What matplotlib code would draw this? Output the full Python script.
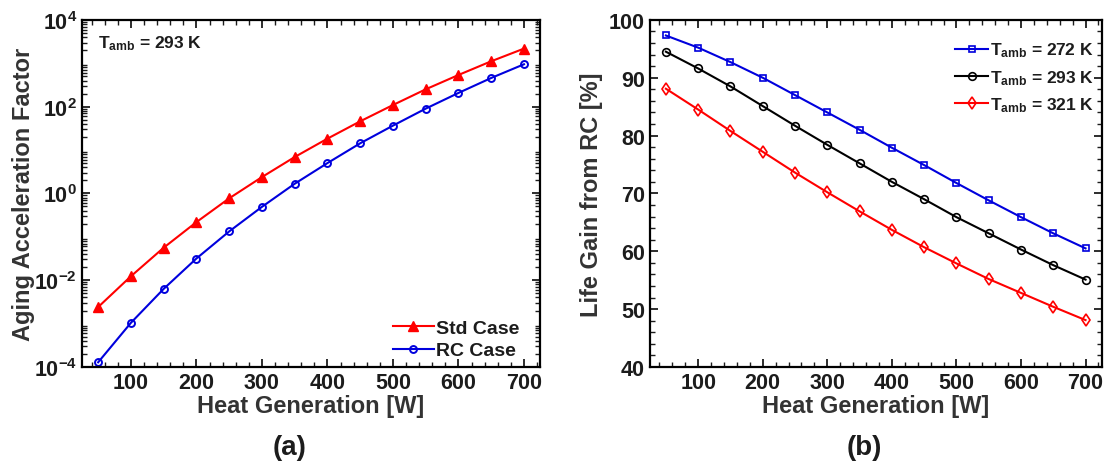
import math
import matplotlib
matplotlib.use("Agg")
import matplotlib.pyplot as plt
from matplotlib.ticker import FixedLocator, FuncFormatter, MultipleLocator, LogLocator, NullFormatter

plt.rcParams['font.family'] = ['Liberation Sans', 'DejaVu Sans']
plt.rcParams['font.weight'] = 'bold'
plt.rcParams['mathtext.fontset'] = 'custom'
plt.rcParams['mathtext.rm'] = 'Liberation Sans:bold'
plt.rcParams['mathtext.bf'] = 'Liberation Sans:bold'
plt.rcParams['mathtext.it'] = 'Liberation Sans:bold'

# ---- data ----
heat_w = [50, 100, 150, 200, 250, 300, 350, 400, 450, 500, 550, 600, 650, 700]

std_case = [2.4e-3, 0.0123, 0.056, 0.218, 0.77, 2.38, 6.9, 18.3, 45.9, 109,
            251, 537, 1112, 2178]
rc_case = [1.28e-4, 1.04e-3, 6.3e-3, 0.0316, 0.133, 0.49, 1.67, 5.0, 14.3, 36.5,
           90, 207, 458, 948]

gain_272 = [97.3, 95.2, 92.7, 90.0, 87.0, 84.0, 81.0, 77.9, 74.9, 71.8, 68.8, 65.9, 63.1, 60.5]
gain_293 = [94.5, 91.6, 88.5, 85.1, 81.7, 78.4, 75.2, 72.0, 69.0, 65.9, 63.1, 60.3, 57.6, 55.1]
gain_321 = [88.1, 84.5, 80.8, 77.2, 73.6, 70.2, 66.9, 63.7, 60.7, 57.9, 55.2, 52.8, 50.4, 48.1]

x_ticks = [100, 200, 300, 400, 500, 600, 700]
log_ticks = [1e-4, 1e-2, 1e0, 1e2, 1e4]
lin_ticks = [40, 50, 60, 70, 80, 90, 100]

TXT = '#1c1c1c'
LBL = '#333333'

fig = plt.figure(figsize=(11.05, 4.64), dpi=100)
ax_a = fig.add_axes([0.074, 0.207, 0.415, 0.748])
ax_b = fig.add_axes([0.588, 0.207, 0.409, 0.748])


def style_axis(ax):
    for sp in ax.spines.values():
        sp.set_linewidth(1.6)
    ax.tick_params(which='both', direction='in', top=True, right=True,
                   labelsize=15.5, colors=TXT, width=1.3)
    ax.tick_params(which='major', length=6)
    ax.tick_params(which='minor', length=3.5, width=1.0)
    ax.set_xlim(25, 725)
    ax.xaxis.set_major_locator(FixedLocator(x_ticks))
    ax.xaxis.set_minor_locator(MultipleLocator(20))
    ax.set_xlabel('Heat Generation [W]', fontsize=17, fontweight='bold', color=LBL, labelpad=1)
    for lbl in ax.get_xticklabels() + ax.get_yticklabels():
        lbl.set_fontweight('bold')


# ---- (a) ----
ax_a.plot(heat_w, std_case, color='red', lw=1.5, marker='^', ms=7.5,
          mfc='red', mec='red', label='Std Case')
ax_a.plot(heat_w, rc_case, color='#0000dd', lw=1.5, marker='o', ms=5,
          mfc='none', mec='#0000dd', mew=1.4, label='RC Case')
ax_a.set_yscale('log')
ax_a.set_ylim(1e-4, 1e4)
ax_a.yaxis.set_major_locator(FixedLocator(log_ticks))
ax_a.yaxis.set_minor_locator(LogLocator(base=10, subs=range(2, 10), numticks=20))
ax_a.yaxis.set_minor_formatter(NullFormatter())
ax_a.yaxis.set_major_formatter(FuncFormatter(
    lambda v, p: r'$\mathbf{10^{%d}}$' % round(math.log10(v))))
style_axis(ax_a)
ax_a.set_ylabel('Aging Acceleration Factor', fontsize=17, fontweight='bold', color=LBL, labelpad=-1)
ax_a.text(0.035, 0.935, r'T$_{\mathbf{amb}}$ = 293 K', transform=ax_a.transAxes,
          fontsize=12.5, fontweight='bold', color=TXT, va='center')
leg_a = ax_a.legend(loc='lower right', bbox_to_anchor=(1.0, -0.04), frameon=False,
                    fontsize=14, handlelength=2.1, handletextpad=0.1,
                    borderaxespad=0.7, labelspacing=0.25)
for t in leg_a.get_texts():
    t.set_color(TXT)

# ---- (b) ----
ax_b.plot(heat_w, gain_272, color='#0000dd', lw=1.5, marker='s', ms=4.5,
          mfc='none', mec='#0000dd', mew=1.2, label=r'T$_{\mathbf{amb}}$ = 272 K')
ax_b.plot(heat_w, gain_293, color='black', lw=1.5, marker='o', ms=5.5,
          mfc='none', mec='black', mew=1.2, label=r'T$_{\mathbf{amb}}$ = 293 K')
ax_b.plot(heat_w, gain_321, color='red', lw=1.5, marker='d', ms=6,
          mfc='none', mec='red', mew=1.2, label=r'T$_{\mathbf{amb}}$ = 321 K')
ax_b.set_ylim(40, 100)
ax_b.yaxis.set_major_locator(FixedLocator(lin_ticks))
ax_b.yaxis.set_minor_locator(MultipleLocator(2))
style_axis(ax_b)
ax_b.set_ylabel('Life Gain from RC [%]', fontsize=17, fontweight='bold', color=LBL, labelpad=4)
leg_b = ax_b.legend(loc='upper right', bbox_to_anchor=(1.022, 0.99), frameon=False,
                    fontsize=12.5, handlelength=1.9, handletextpad=0.1,
                    borderaxespad=0.6, labelspacing=0.5)
for t in leg_b.get_texts():
    t.set_color(TXT)

fig.text(0.262, 0.035, '(a)', fontsize=20, fontweight='bold', ha='center', va='center', color=TXT)
fig.text(0.782, 0.035, '(b)', fontsize=20, fontweight='bold', ha='center', va='center', color=TXT)

fig.savefig('out.png', dpi=100)
